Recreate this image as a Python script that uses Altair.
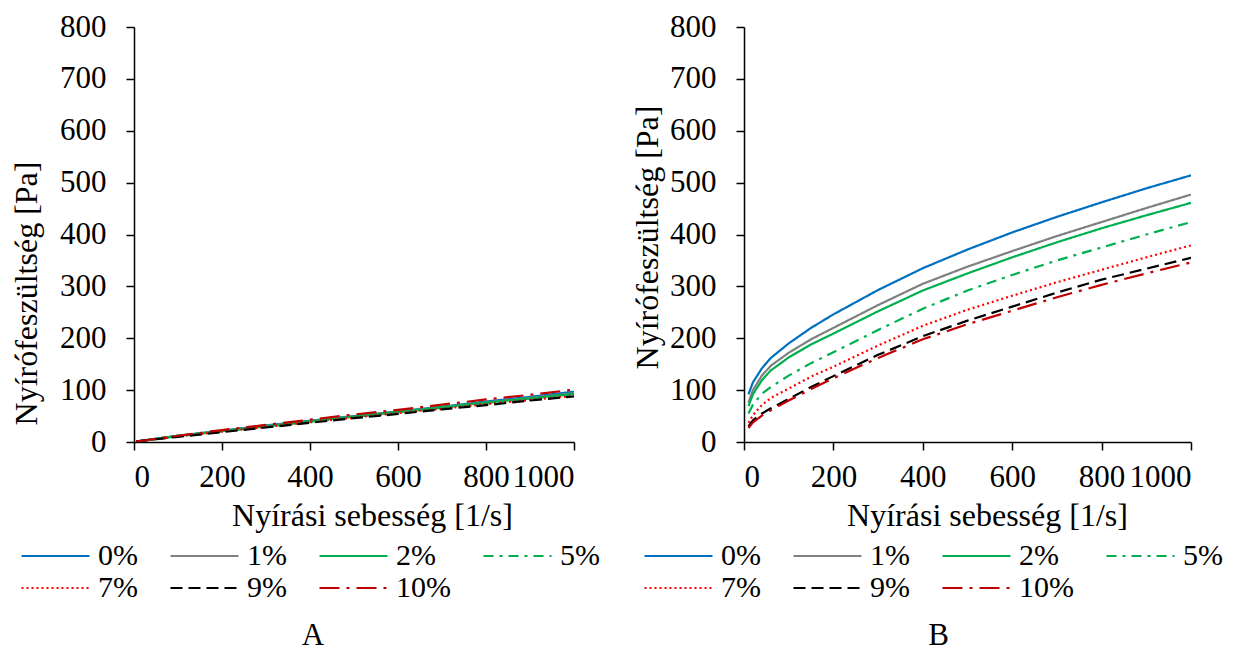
import altair as alt
import pandas as pd

series = ["0%", "1%", "2%", "5%", "7%", "9%", "10%"]
colors = ["#0070C0", "#808080", "#00B050", "#00B050", "#FF0000", "#000000", "#C00000"]
dashes = [[1, 0], [1, 0], [1, 0], [10, 6, 3, 6], [2, 3], [12, 6], [20, 7, 3, 7]]

# Panel A
a_x = [5, 100, 200, 300, 400, 500, 600, 700, 800, 900, 1000]
a_vals = {
    "0%": [1, 12, 22, 32, 41, 50, 59, 68, 78, 87, 97],
    "1%": [1, 12, 21, 31, 40, 49, 58, 67, 76, 85, 94],
    "2%": [1, 12, 21, 30, 40, 49, 58, 67, 76, 84, 93],
    "5%": [1, 11, 21, 30, 39, 48, 57, 66, 75, 84, 92],
    "7%": [1, 11, 20, 29, 38, 47, 56, 64, 73, 81, 89],
    "9%": [1, 10, 19, 28, 37, 46, 54, 63, 71, 80, 88],
    "10%": [1, 12, 23, 33, 43, 53, 62, 72, 82, 91, 101],
}

# Panel B
b_x = [10, 20, 40, 60, 100, 150, 200, 300, 400, 500, 600, 700, 800, 900, 1000]
b_vals = {
    "0%": [92, 115, 142, 162, 190, 220, 246, 293, 335, 371, 404, 434, 462, 489, 514],
    "1%": [76, 100, 128, 147, 172, 198, 220, 264, 305, 338, 368, 397, 424, 451, 477],
    "2%": [69, 92, 119, 138, 163, 188, 209, 252, 292, 325, 356, 385, 412, 437, 461],
    "5%": [55, 72, 93, 106, 128, 152, 173, 216, 257, 292, 322, 350, 375, 400, 424],
    "7%": [37, 52, 71, 85, 103, 126, 145, 186, 224, 255, 282, 308, 332, 356, 379],
    "9%": [30, 42, 55, 65, 83, 106, 127, 168, 204, 234, 261, 288, 313, 334, 355],
    "10%": [27, 38, 51, 61, 80, 102, 123, 162, 198, 227, 253, 279, 303, 325, 346],
}

x_ticks = [0, 200, 400, 600, 800, 1000]
y_ticks = [0, 100, 200, 300, 400, 500, 600, 700, 800]

FONT = "Liberation Serif"


def frame(xs, vals):
    rows = []
    for i, s in enumerate(series):
        for x, v in zip(xs, vals[s]):
            rows.append({"series": s, "order": i, "shear": x, "stress": v})
    return pd.DataFrame(rows)


def panel(df, width, label, legend_x, xtitle_x, ytitle_x, ytitle_y, label_dx):
    leg = alt.Legend(
        title=None, orient="none", legendX=legend_x, legendY=513, columns=4,
        direction="horizontal", symbolType="stroke", symbolSize=4624,
        symbolStrokeWidth=2.2, clipHeight=32, labelFont=FONT, labelFontSize=30,
        labelColor="black", labelOffset=7, gridAlign="each", columnPadding=31,
        rowPadding=0, padding=0, labelLimit=200,
    )
    common = dict(labelFont=FONT, labelFontSize=31, labelColor="black",
                  titleFont=FONT, titleFontSize=32, titleFontWeight="normal",
                  titleColor="black", grid=False, domainColor="black", domainWidth=1.5,
                  tickColor="black", tickWidth=1.5, tickSize=8, format="d")
    return alt.Chart(df).mark_line(strokeWidth=2.2, clip=True).encode(
        x=alt.X("shear:Q", scale=alt.Scale(domain=[0, 1000], nice=False),
                axis=alt.Axis(values=x_ticks, title="Nyírási sebesség [1/s]",
                              titleX=xtitle_x, titleY=83, titleBaseline="alphabetic",
                              titleAlign="center", labelPadding=12, **common)),
        y=alt.Y("stress:Q", scale=alt.Scale(domain=[0, 800], nice=False),
                axis=alt.Axis(values=y_ticks, title="Nyírófeszültség [Pa]",
                              titleX=ytitle_x, titleY=ytitle_y, titleBaseline="middle",
                              titleAlign="center", titleAngle=270, labelPadding=20, **common)),
        color=alt.Color("series:N", scale=alt.Scale(domain=series, range=colors), legend=leg),
        strokeDash=alt.StrokeDash("series:N", scale=alt.Scale(domain=series, range=dashes), legend=leg),
        order=alt.Order("order:Q"),
    ).properties(
        width=width, height=415,
        title=alt.TitleParams(label, orient="bottom", anchor="middle", dx=label_dx, offset=17,
                              font=FONT, fontSize=31, fontWeight="normal", color="black"),
    )


chart_a = panel(frame(a_x, a_vals), 440, "A", -114, 238, -108, 266, -41)
chart_b = panel(frame(b_x, b_vals), 447, "B", -101, 243, -97, 210, -29)

chart = alt.hconcat(chart_a, chart_b, spacing=170, bounds="flush").resolve_scale(
    color="independent", strokeDash="independent"
).properties(
    padding={"left": 2, "top": 3, "right": 0, "bottom": 0},
).configure(
    font=FONT, background="white"
).configure_view(stroke=None).configure_legend(
    labelFont=FONT, labelFontSize=30, labelColor="black",
)

chart.save("out.html", embed_options={"renderer": "svg", "actions": False})
